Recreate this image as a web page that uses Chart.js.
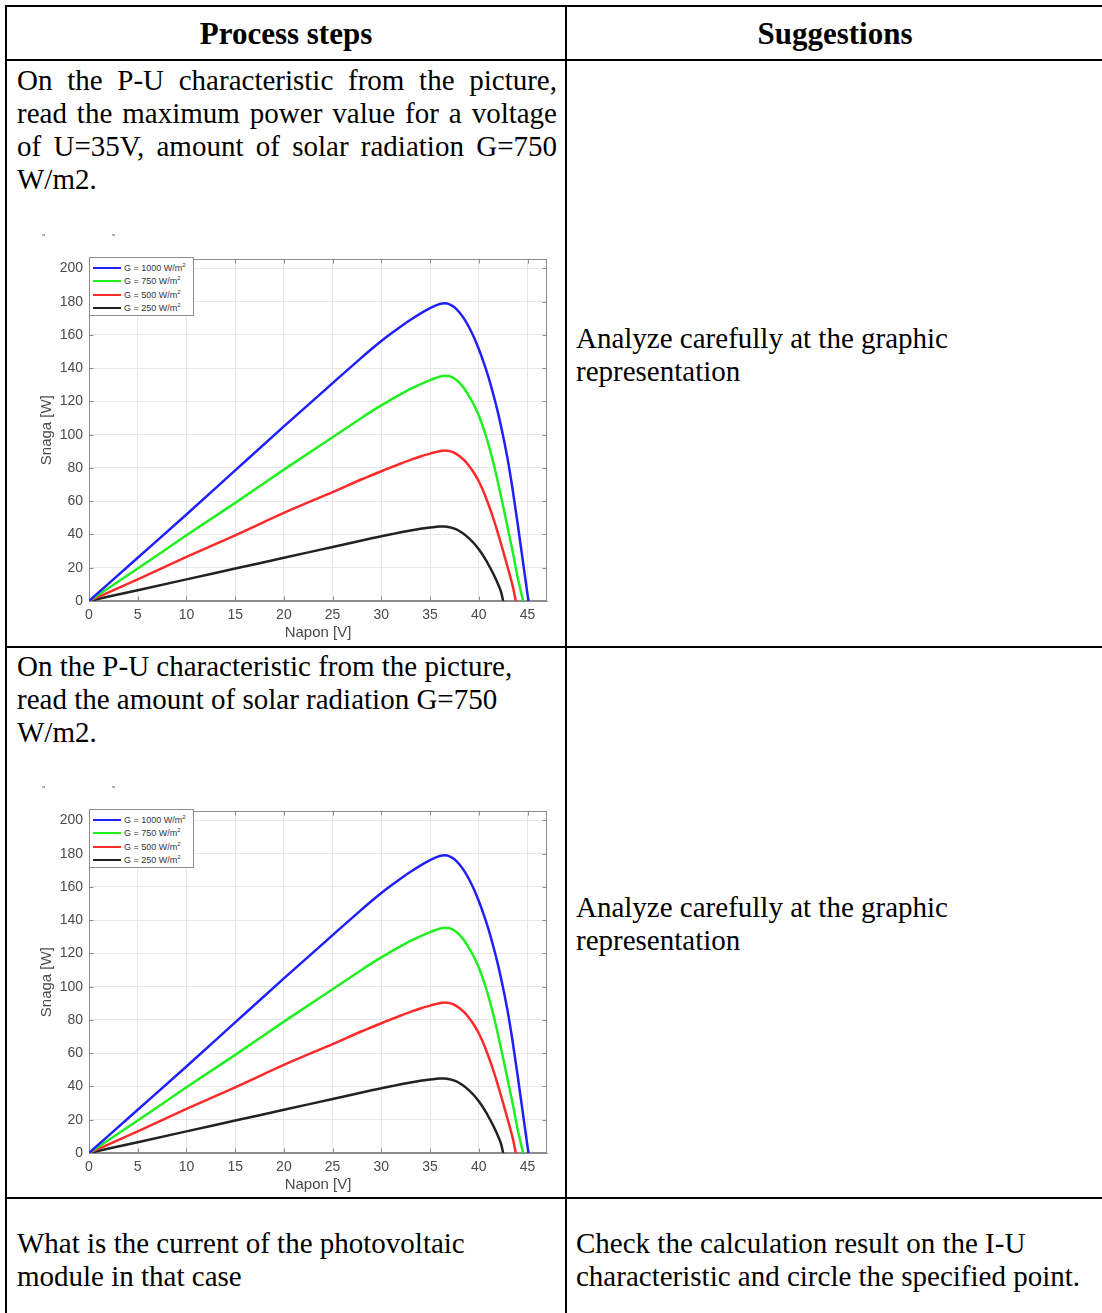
<!DOCTYPE html>
<html><head><meta charset="utf-8">
<script src="https://cdn.jsdelivr.net/npm/chart.js@4.4.1/dist/chart.umd.min.js"></script>
<style>
html,body{margin:0;padding:0;background:#fff;}
body{width:1102px;height:1313px;position:relative;overflow:hidden;font-family:"Liberation Serif","Times New Roman",serif;color:#000;}
.hl{position:absolute;background:#000;height:2px;}
.vl{position:absolute;background:#000;width:2px;}
.txt{position:absolute;font-size:29px;line-height:33px;white-space:normal;}
.just{text-align:justify;}
.hdr{position:absolute;font-size:31px;font-weight:bold;text-align:center;line-height:33px;top:17px;}
.chartbox{position:absolute;left:30px;width:530px;height:400px;}
.legend{position:absolute;left:89px;width:103px;height:57px;border:1px solid #8c8c8c;background:#fff;font-family:"Liberation Sans",Arial,sans-serif;font-size:9px;color:#333;z-index:5;}
.legend .it{position:absolute;left:0;width:102px;height:12px;}
.legend .sw{position:absolute;left:3px;top:5px;width:28px;height:2px;}
.legend .lb{position:absolute;left:34px;top:0;line-height:12px;white-space:nowrap;}
.legend sup{font-size:6px;line-height:0;vertical-align:4px;}
.dash{position:absolute;width:3px;height:2px;background:#aab4c4;}
</style></head>
<body>
<!-- table borders -->
<div class="hl" style="left:5px;top:5px;width:1100px;"></div>
<div class="vl" style="left:5px;top:5px;height:1310px;"></div>
<div class="vl" style="left:565px;top:5px;height:1310px;"></div>
<div class="hl" style="left:5px;top:59px;width:1100px;"></div>
<div class="hl" style="left:5px;top:646px;width:1100px;"></div>
<div class="hl" style="left:5px;top:1197px;width:1100px;"></div>

<div class="hdr" style="left:7px;width:558px;">Process steps</div>
<div class="hdr" style="left:567px;width:536px;">Suggestions</div>

<div class="txt just" style="left:17px;top:64px;width:540px;">On the P-U characteristic from the picture, read the maximum power value for a voltage of U=35V, amount of solar radiation G=750 W/m2.</div>
<div class="txt" style="left:576px;top:322px;width:519px;">Analyze carefully at the graphic representation</div>

<div class="txt" style="left:17px;top:650px;width:540px;">On the P-U characteristic from the picture, read the amount of solar radiation G=750 W/m2.</div>
<div class="txt" style="left:576px;top:891px;width:519px;">Analyze carefully at the graphic representation</div>

<div class="txt" style="left:17px;top:1227px;width:540px;">What is the current of the photovoltaic<br>module in that case</div>
<div class="txt" style="left:576px;top:1227px;width:519px;">Check the calculation result on the I-U<br>characteristic and circle the specified point.</div>

<!-- chart 1 -->
<div class="dash" style="left:42px;top:234px;"></div>
<div class="dash" style="left:112px;top:234px;"></div>
<div class="chartbox" style="top:245px;"><canvas id="c1" width="530" height="400"></canvas></div>
<div class="legend" style="top:257px;">
  <div class="it" style="top:4px;"><div class="sw" style="background:#2020ff"></div><div class="lb">G = 1000 W/m<sup>2</sup></div></div>
  <div class="it" style="top:17px;"><div class="sw" style="background:#20f020"></div><div class="lb">G = 750 W/m<sup>2</sup></div></div>
  <div class="it" style="top:31px;"><div class="sw" style="background:#ff2a2a"></div><div class="lb">G = 500 W/m<sup>2</sup></div></div>
  <div class="it" style="top:44px;"><div class="sw" style="background:#222"></div><div class="lb">G = 250 W/m<sup>2</sup></div></div>
</div>

<!-- chart 2 -->
<div class="dash" style="left:42px;top:786px;"></div>
<div class="dash" style="left:112px;top:786px;"></div>
<div class="chartbox" style="top:797px;"><canvas id="c2" width="530" height="400"></canvas></div>
<div class="legend" style="top:809px;">
  <div class="it" style="top:4px;"><div class="sw" style="background:#2020ff"></div><div class="lb">G = 1000 W/m<sup>2</sup></div></div>
  <div class="it" style="top:17px;"><div class="sw" style="background:#20f020"></div><div class="lb">G = 750 W/m<sup>2</sup></div></div>
  <div class="it" style="top:31px;"><div class="sw" style="background:#ff2a2a"></div><div class="lb">G = 500 W/m<sup>2</sup></div></div>
  <div class="it" style="top:44px;"><div class="sw" style="background:#222"></div><div class="lb">G = 250 W/m<sup>2</sup></div></div>
</div>

<script>
// ---- data ----
const seriesLabels = ['G = 1000 W/m²', 'G = 750 W/m²', 'G = 500 W/m²', 'G = 250 W/m²'];

const u1000 = [0, 5, 10, 15, 20, 25, 28, 29, 30, 31, 32, 33, 34, 35, 35.5, 36, 36.5, 37, 37.5, 38, 38.5, 39, 39.5, 40, 40.5, 41, 41.5, 42, 42.5, 43, 43.5, 44, 44.5, 45, 45.1];
const p1000 = [0, 26, 52, 78.5, 105, 131, 146.5, 151.5, 156.3, 160.8, 165.1, 169.1, 172.8, 176.1, 177.5, 178.6, 179, 178.4, 176.6, 173.6, 169.6, 164.6, 158.6, 151.5, 143.5, 134.5, 124, 112.5, 99, 84, 66, 46, 25, 4, 0];

const u750 = [0, 5, 10, 15, 20, 25, 28, 29, 30, 31, 32, 33, 34, 35, 35.5, 36, 36.5, 37, 37.5, 38, 38.5, 39, 39.5, 40, 40.5, 41, 41.5, 42, 42.5, 43, 43.5, 44, 44.55];
const p750 = [0, 19.5, 39.5, 59, 79, 98.5, 110.2, 114, 117.6, 121.1, 124.4, 127.5, 130.3, 132.8, 133.95, 134.9, 135.4, 135.1, 133.8, 131.3, 127.8, 123.2, 118, 111.5, 103.5, 94, 83, 70.5, 57, 43, 29, 14, 0];

const u500 = [0, 5, 10, 15, 20, 25, 28, 29, 30, 31, 32, 33, 34, 35, 35.5, 36, 36.5, 37, 37.5, 38, 38.5, 39, 39.5, 40, 40.5, 41, 41.5, 42, 42.5, 43, 43.5, 43.8];
const p500 = [0, 13, 26.5, 39.5, 53, 65.5, 73.2, 75.6, 78, 80.4, 82.7, 84.9, 86.9, 88.6, 89.4, 90.1, 90.5, 90.1, 89.1, 87.2, 84.7, 81.2, 77.1, 72, 65.5, 58, 49.5, 40, 30, 19.5, 8.5, 0];

const u250 = [0, 5, 10, 15, 20, 25, 28, 29, 30, 31, 32, 33, 34, 35, 35.5, 36, 36.5, 37, 37.5, 38, 38.5, 39, 39.5, 40, 40.5, 41, 41.5, 42, 42.3, 42.5];
const p250 = [0, 6.5, 13, 19.5, 26, 32.5, 36.4, 37.7, 38.9, 40.1, 41.3, 42.4, 43.4, 44.2, 44.55, 44.8, 44.8, 44.4, 43.5, 42.1, 40.2, 37.7, 34.7, 31.1, 26.8, 21.8, 16.2, 9.8, 5.2, 0];

const xTicks = [0, 5, 10, 15, 20, 25, 30, 35, 40, 45];
const yTicks = [0, 20, 40, 60, 80, 100, 120, 140, 160, 180, 200];
const xTitle = 'Napon [V]';
const yTitle = 'Snaga [W]';

const colors = ['#2020ff', '#20f020', '#ff2a2a', '#222222'];
const uArr = [u1000, u750, u500, u250];
const pArr = [p1000, p750, p500, p250];

function pts(u, p) { return u.map((v, i) => ({x: v, y: p[i]})); }

const boxPlugin = {
  id: 'box',
  beforeDatasetsDraw(chart) {
    const {ctx, chartArea: a, scales} = chart;
    ctx.save();
    ctx.strokeStyle = '#8c8c8c';
    ctx.lineWidth = 1;
    const L = Math.round(a.left) + 0.5, T = Math.round(a.top) + 0.5;
    const R = Math.round(a.right) - 0.5, B = Math.round(a.bottom) - 0.5;
    ctx.strokeRect(L, T, R - L, B - T);
    ctx.beginPath();
    xTicks.forEach(v => {
      const x = Math.round(scales.x.getPixelForValue(v)) + 0.5;
      ctx.moveTo(x, T); ctx.lineTo(x, T + 4);
      ctx.moveTo(x, B); ctx.lineTo(x, B - 4);
    });
    yTicks.forEach(v => {
      const y = Math.round(scales.y.getPixelForValue(v)) + 0.5;
      ctx.moveTo(R, y); ctx.lineTo(R - 4, y);
      ctx.moveTo(L, y); ctx.lineTo(L + 4, y);
    });
    ctx.stroke();
    ctx.restore();
  }
};

const font = 'Liberation Sans, Arial, sans-serif';

function makeChart(id) {
  return new Chart(document.getElementById(id), {
    type: 'line',
    data: {
      datasets: seriesLabels.map((lab, i) => ({
        label: lab,
        data: pts(uArr[i], pArr[i]),
        borderColor: colors[i],
        backgroundColor: colors[i],
        borderWidth: 2.5,
        pointRadius: 0,
        fill: false,
        cubicInterpolationMode: 'monotone'
      }))
    },
    options: {
      responsive: false,
      animation: false,
      devicePixelRatio: 1,
      layout: {padding: {top: 12, right: 13, bottom: 0, left: 0}},
      plugins: {legend: {display: false}, tooltip: {enabled: false}},
      scales: {
        x: {
          type: 'linear', min: 0, max: 47,
          afterBuildTicks: s => { s.ticks = xTicks.map(v => ({value: v})); },
          afterFit: s => { s.height = 44; },
          grid: {color: '#e8e8e8', drawTicks: false, lineWidth: 1},
          border: {display: true, color: '#8c8c8c'},
          ticks: {padding: 6, color: '#4a4a4a', font: {family: font, size: 14}, maxRotation: 0, autoSkip: false},
          title: {display: true, text: xTitle, color: '#4a4a4a', font: {family: font, size: 15}, padding: {top: 0, bottom: 3}}
        },
        y: {
          type: 'linear', min: 0, max: 205.4,
          afterBuildTicks: s => { s.ticks = yTicks.map(v => ({value: v})); },
          afterFit: s => { s.width = 59; },
          grid: {color: '#e8e8e8', drawTicks: false, lineWidth: 1},
          border: {display: true, color: '#8c8c8c'},
          ticks: {padding: 6, color: '#4a4a4a', font: {family: font, size: 14}, autoSkip: false},
          title: {display: true, text: yTitle, color: '#4a4a4a', font: {family: font, size: 15}, padding: {top: 8, bottom: 0}}
        }
      }
    },
    plugins: [boxPlugin]
  });
}
makeChart('c1');
makeChart('c2');
</script>
</body></html>
